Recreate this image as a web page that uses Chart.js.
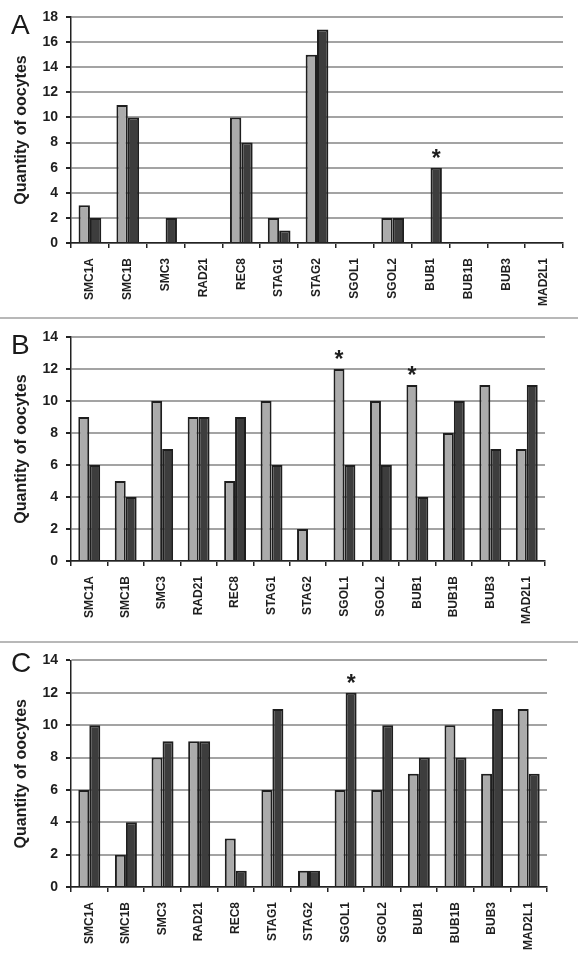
<!DOCTYPE html>
<html>
<head>
<meta charset="utf-8">
<script src="https://cdn.jsdelivr.net/npm/chart.js@4.4.1/dist/chart.umd.min.js"></script>
<style>
  body { margin: 0; background: #fff; }
  #page { position: relative; width: 578px; height: 972px; overflow: hidden; font-family: "Liberation Sans", Arial, sans-serif; }
  .panel { position: absolute; left: 0; }
  .letter { position: absolute; left: 11px; font-size: 28px; line-height: 1; color: #1a1a1a; }
  .sep { position: absolute; left: 0; width: 578px; height: 2px; background: #b8b8b8; }
</style>
</head>
<body>
<div id="page">
  <canvas id="chartA" class="panel" width="578" height="318" style="top:0px"></canvas>
  <canvas id="chartB" class="panel" width="578" height="322" style="top:320px"></canvas>
  <canvas id="chartC" class="panel" width="578" height="328" style="top:644px"></canvas>
  <div class="sep" style="top:317px"></div>
  <div class="sep" style="top:641px"></div>
  <div class="letter" style="top:11px">A</div>
  <div class="letter" style="top:331px">B</div>
  <div class="letter" style="top:649px">C</div>
</div>
<script>
const genes = ['SMC1A', 'SMC1B', 'SMC3', 'RAD21', 'REC8', 'STAG1', 'STAG2', 'SGOL1', 'SGOL2', 'BUB1', 'BUB1B', 'BUB3', 'MAD2L1'];

// panel A
const lightA = [3, 11, 0, 0, 10, 2, 15, 0, 2, 0, 0, 0, 0];
const darkA  = [2, 10, 2, 0, 8, 1, 17, 0, 2, 6, 0, 0, 0];
const starsA = [{ gene: 'BUB1', series: 1 }];

// panel B
const lightB = [9, 5, 10, 9, 5, 10, 2, 12, 10, 11, 8, 11, 7];
const darkB  = [6, 4, 7, 9, 9, 6, 0, 6, 6, 4, 10, 7, 11];
const starsB = [{ gene: 'SGOL1', series: 0 }, { gene: 'BUB1', series: 0 }];

// panel C
const lightC = [6, 2, 8, 9, 3, 6, 1, 6, 6, 7, 10, 7, 11];
const darkC  = [10, 4, 9, 9, 1, 11, 1, 12, 10, 8, 8, 11, 7];
const starsC = [{ gene: 'SGOL1', series: 1 }];

const FONT = '"Liberation Sans", Arial, sans-serif';

// asterisk above the marked bars
const starPlugin = {
  id: 'stars',
  afterDatasetsDraw(chart, args, opts) {
    const ctx = chart.ctx;
    const labels = chart.data.labels;
    ctx.save();
    ctx.font = 'bold 23px ' + FONT;
    ctx.fillStyle = '#1e1e1e';
    ctx.textAlign = 'center';
    ctx.textBaseline = 'alphabetic';
    (opts.marks || []).forEach(m => {
      const bar = chart.getDatasetMeta(m.series).data[labels.indexOf(m.gene)];
      ctx.fillText('*', bar.x, bar.y - 15 + 13);
    });
    ctx.restore();
  }
};

function makeChart(id, light, dark, yMax, stars, rightPad, topPad, axisHeight) {
  return new Chart(document.getElementById(id), {
    type: 'bar',
    data: {
      labels: genes,
      datasets: [
        { data: light, backgroundColor: '#ababab', borderColor: '#1e1e1e', borderWidth: 2 },
        { data: dark, backgroundColor: '#3d3d3d', borderColor: '#1e1e1e', borderWidth: 2 }
      ]
    },
    options: {
      responsive: false,
      animation: false,
      layout: { padding: { left: 0, top: topPad, right: rightPad, bottom: 0 } },
      datasets: { bar: { categoryPercentage: 0.6, barPercentage: 1 } },
      plugins: {
        legend: { display: false },
        tooltip: { enabled: false },
        stars: { marks: stars }
      },
      scales: {
        x: {
          grid: { drawOnChartArea: false, tickLength: 5, tickColor: '#222', lineWidth: 1.5 },
          border: { color: '#222', width: 1.5 },
          ticks: {
            autoSkip: false, minRotation: 90, maxRotation: 90, padding: 10,
            color: '#1e1e1e', font: { family: FONT, size: 12, weight: 'bold' }
          },
          afterFit: s => { s.height = axisHeight; }
        },
        y: {
          min: 0, max: yMax,
          ticks: { stepSize: 2, padding: 8, color: '#1e1e1e', font: { family: FONT, size: 14, weight: 'bold' } },
          grid: { color: '#a3a3a3', lineWidth: 2, tickLength: 5, tickColor: '#222' },
          border: { color: '#222', width: 1.5 },
          title: {
            display: true, text: 'Quantity of oocytes', color: '#1e1e1e',
            font: { family: FONT, size: 16, weight: 'bold' }, padding: { top: 12, bottom: 0 }
          },
          afterFit: s => { s.width = 71; }
        }
      }
    },
    plugins: [starPlugin]
  });
}

makeChart('chartA', lightA, darkA, 18, starsA, 15, 17, 75);
makeChart('chartB', lightB, darkB, 14, starsB, 33, 17, 81);
makeChart('chartC', lightC, darkC, 14, starsC, 31, 15, 85);
</script>
</body>
</html>
